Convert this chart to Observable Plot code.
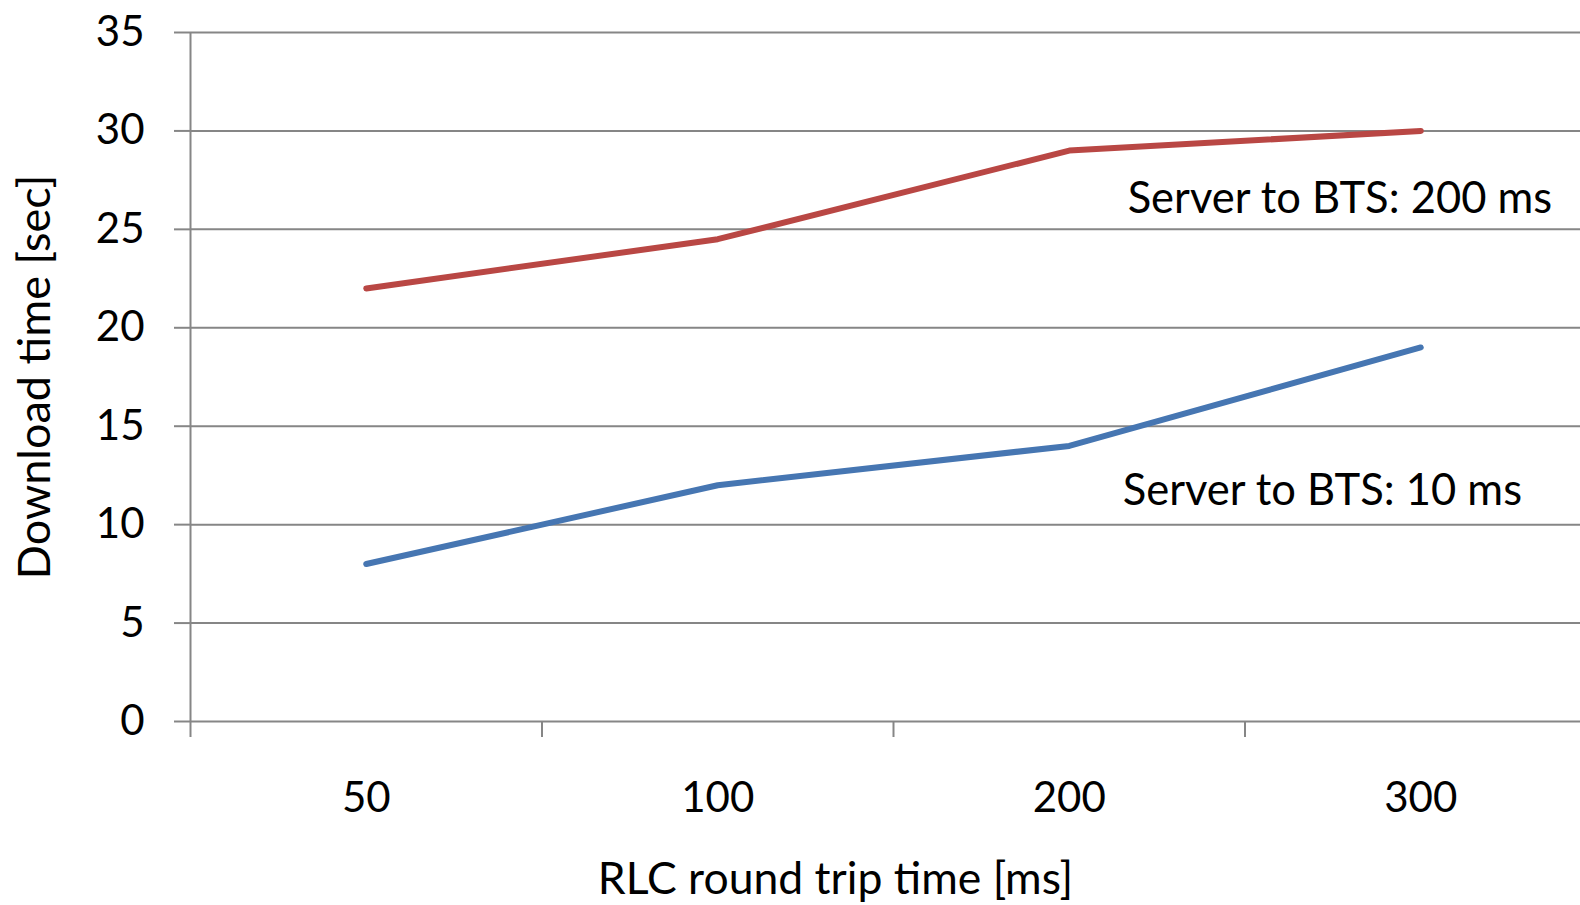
<!DOCTYPE html>
<html>
<head>
<meta charset="utf-8">
<script src="https://cdn.jsdelivr.net/npm/d3@7"></script>
<script src="https://cdn.jsdelivr.net/npm/@observablehq/plot@0.6"></script>
<style>
  html, body { margin: 0; padding: 0; background: #fff; }
  svg { display: block; }
</style>
</head>
<body>
<div id="chart"></div>
<script>
// ---- data ----
const categories = ["50", "100", "200", "300"];
const server200 = [22, 24.5, 29, 30];
const server10 = [8, 12, 14, 19];
const seriesNames = ["Server to BTS: 200 ms", "Server to BTS: 10 ms"];
const yTicks = [0, 5, 10, 15, 20, 25, 30, 35];
const yLabel = "Download time [sec]";
const xLabel = "RLC round trip time [ms]";

const rows = [
  ...categories.map((c, i) => ({series: seriesNames[0], i, v: server200[i]})),
  ...categories.map((c, i) => ({series: seriesNames[1], i, v: server10[i]}))
];
const catIdx = categories.map((c, i) => i);
const boundaries = categories.map((c, i) => i - 0.5);

const grid = "#868686";
const font = "Lato, 'Open Sans', sans-serif";

const chart = Plot.plot({
  width: 1580,
  height: 905,
  marginLeft: 190,
  marginRight: 0,
  marginTop: 32,
  marginBottom: 184,
  style: {fontFamily: font, color: "#000", background: "#fff"},
  x: {type: "linear", domain: [-0.5, 3.5], range: [190, 1596]},
  y: {domain: [0, 35]},
  marks: [
    Plot.ruleY(yTicks, {stroke: grid, strokeWidth: 2, strokeOpacity: 1}),
    Plot.axisY({ticks: yTicks, tickSize: 16, tickPadding: 30, stroke: grid, strokeWidth: 2, strokeOpacity: 1,
      fontSize: 42, label: null, tickFormat: d => String(d)}),
    Plot.ruleX([boundaries[0]], {y1: 0, y2: 35, stroke: grid, strokeWidth: 2}),
    Plot.axisX({ticks: boundaries, tickSize: 16, stroke: grid, strokeWidth: 2, strokeOpacity: 1,
      tickFormat: () => "", label: null}),
    Plot.axisX({ticks: catIdx, tickSize: 0, tickPadding: 61, fontSize: 42,
      tickFormat: i => categories[i], label: null}),
    Plot.line(rows.filter(d => d.series === seriesNames[0]), {x: "i", y: "v", stroke: "#B94744", strokeWidth: 6, strokeLinecap: "round"}),
    Plot.line(rows.filter(d => d.series === seriesNames[1]), {x: "i", y: "v", stroke: "#4676B2", strokeWidth: 6, strokeLinecap: "round"}),
    Plot.text([seriesNames[0]], {x: 2.77, y: 26.55, text: d => d, fontSize: 43.5, textAnchor: "middle", fill: "#000"}),
    Plot.text([seriesNames[1]], {x: 2.72, y: 11.7, text: d => d, fontSize: 43.5, textAnchor: "middle", fill: "#000"}),
    Plot.text([yLabel], {frameAnchor: "left", textAnchor: "middle", dx: -155, rotate: -90, text: d => d, fontSize: 45, fill: "#000"}),
    Plot.text([xLabel], {frameAnchor: "bottom", textAnchor: "middle", dx: -50, dy: 172, text: d => d, fontSize: 44.5, fill: "#000"})
  ]
});
document.getElementById("chart").appendChild(chart);
</script>
</body>
</html>
